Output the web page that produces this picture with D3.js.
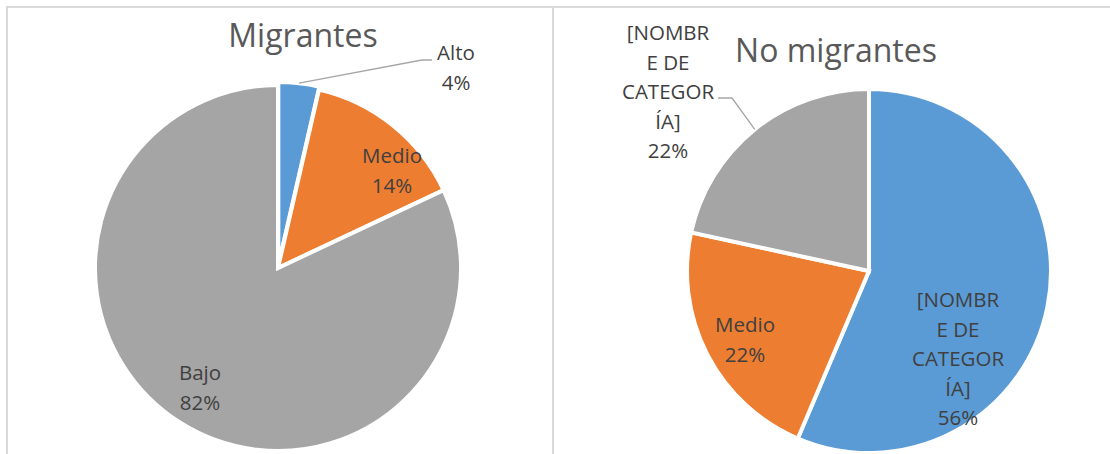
<!DOCTYPE html>
<html>
<head>
<meta charset="utf-8">
<script src="https://cdn.jsdelivr.net/npm/d3@7"></script>
<style>
  body { margin: 0; background: #fff; }
  svg { display: block; font-family: "Open Sans", sans-serif; }
</style>
</head>
<body>
<script>
// data
var titles = ["Migrantes", "No migrantes"];
var catsLeft = ["Alto", "Medio", "Bajo"];
var valsLeft = [3.6, 14.4, 82.0];
var catsRight = ["[NOMBRE DE CATEGORÍA]", "Medio", "[NOMBRE DE CATEGORÍA]"];
var valsRight = [56.4, 22.0, 21.6];
// wrapped label lines as shown in the picture
var linesLeft = [["Alto"], ["Medio"], ["Bajo"]];
var linesRight = [["[NOMBR", "E DE", "CATEGOR", "ÍA]"], ["Medio"], ["[NOMBR", "E DE", "CATEGOR", "ÍA]"]];
var colors = ["#5b9bd5", "#ed7d31", "#a5a5a5"];

var svgWidth = 1110, svgHeight = 454;
var svg = d3.select("body").append("svg")
  .attr("width", svgWidth)
  .attr("height", svgHeight);

// chart frames
svg.append("rect").attr("x", 7).attr("y", 7).attr("width", 546).attr("height", 460)
  .attr("fill", "none").attr("stroke", "#d9d9d9").attr("stroke-width", 2);
svg.append("rect").attr("x", 553).attr("y", 7).attr("width", 600).attr("height", 460)
  .attr("fill", "none").attr("stroke", "#d9d9d9").attr("stroke-width", 2);

// layout for each chart (label anchors are relative to the pie centre: x centre, first baseline)
var charts = [
  { title: titles[0], cats: catsLeft, vals: valsLeft, lines: linesLeft,
    cx: 278, cy: 268, r: 183, titleX: 303, titleY: 47,
    explode: [3, 0, 0],
    labels: [[178, -208], [114, -105], [-78, 112]],
    leaders: [[[144, -208], [154, -208]], null, null] },
  { title: titles[1], cats: catsRight, vals: valsRight, lines: linesRight,
    cx: 869, cy: 271, r: 182, titleX: 836, titleY: 62,
    explode: [0, 0, 0],
    labels: [[89, 36], [-124, 61], [-201, -231]],
    leaders: [null, null, [[-137, -173], [-151, -173]]] }
];

var lineH = 29.5;

charts.forEach(function(c) {
  var g = svg.append("g").attr("transform", `translate(${c.cx},${c.cy})`);

  var pie = d3.pie().sort(null).value(function(d) { return d; });
  var arcs = pie(c.vals);
  var arc = d3.arc().innerRadius(0).outerRadius(c.r);

  g.selectAll("path.slice")
    .data(arcs)
    .enter().append("path")
    .attr("class", "slice")
    .attr("d", arc)
    .attr("transform", function(d, i) {
      var a = (d.startAngle + d.endAngle) / 2;
      var e = c.explode[i];
      return `translate(${e * Math.sin(a)},${-e * Math.cos(a)})`;
    })
    .attr("fill", function(d, i) { return colors[i]; })
    .attr("stroke", "#fff")
    .attr("stroke-width", 4)
    .attr("stroke-linejoin", "miter");

  // leader lines from the slice edge to the label
  arcs.forEach(function(d, i) {
    var pts = c.leaders[i];
    if (!pts) return;
    var a = (d.startAngle + d.endAngle) / 2;
    var rr = c.r + c.explode[i];
    var start = [rr * Math.sin(a), -rr * Math.cos(a)];
    var path = [start].concat(pts);
    g.append("path")
      .attr("d", d3.line()(path))
      .attr("fill", "none")
      .attr("stroke", "#a6a6a6")
      .attr("stroke-width", 1.3);
  });

  // data labels
  arcs.forEach(function(d, i) {
    var pct = Math.round(d.value / d3.sum(c.vals) * 100) + "%";
    var lines = c.lines[i].concat([pct]);
    var t = g.append("text")
      .attr("text-anchor", "middle")
      .attr("fill", "#404040")
      .style("font-size", "20.5px");
    lines.forEach(function(s, j) {
      t.append("tspan")
        .attr("x", c.labels[i][0])
        .attr("y", c.labels[i][1] + j * lineH)
        .text(s);
    });
  });

  svg.append("text")
    .attr("x", c.titleX)
    .attr("y", c.titleY)
    .attr("text-anchor", "middle")
    .attr("fill", "#595959")
    .style("font-size", "32px")
    .text(c.title);
});
</script>
</body>
</html>
